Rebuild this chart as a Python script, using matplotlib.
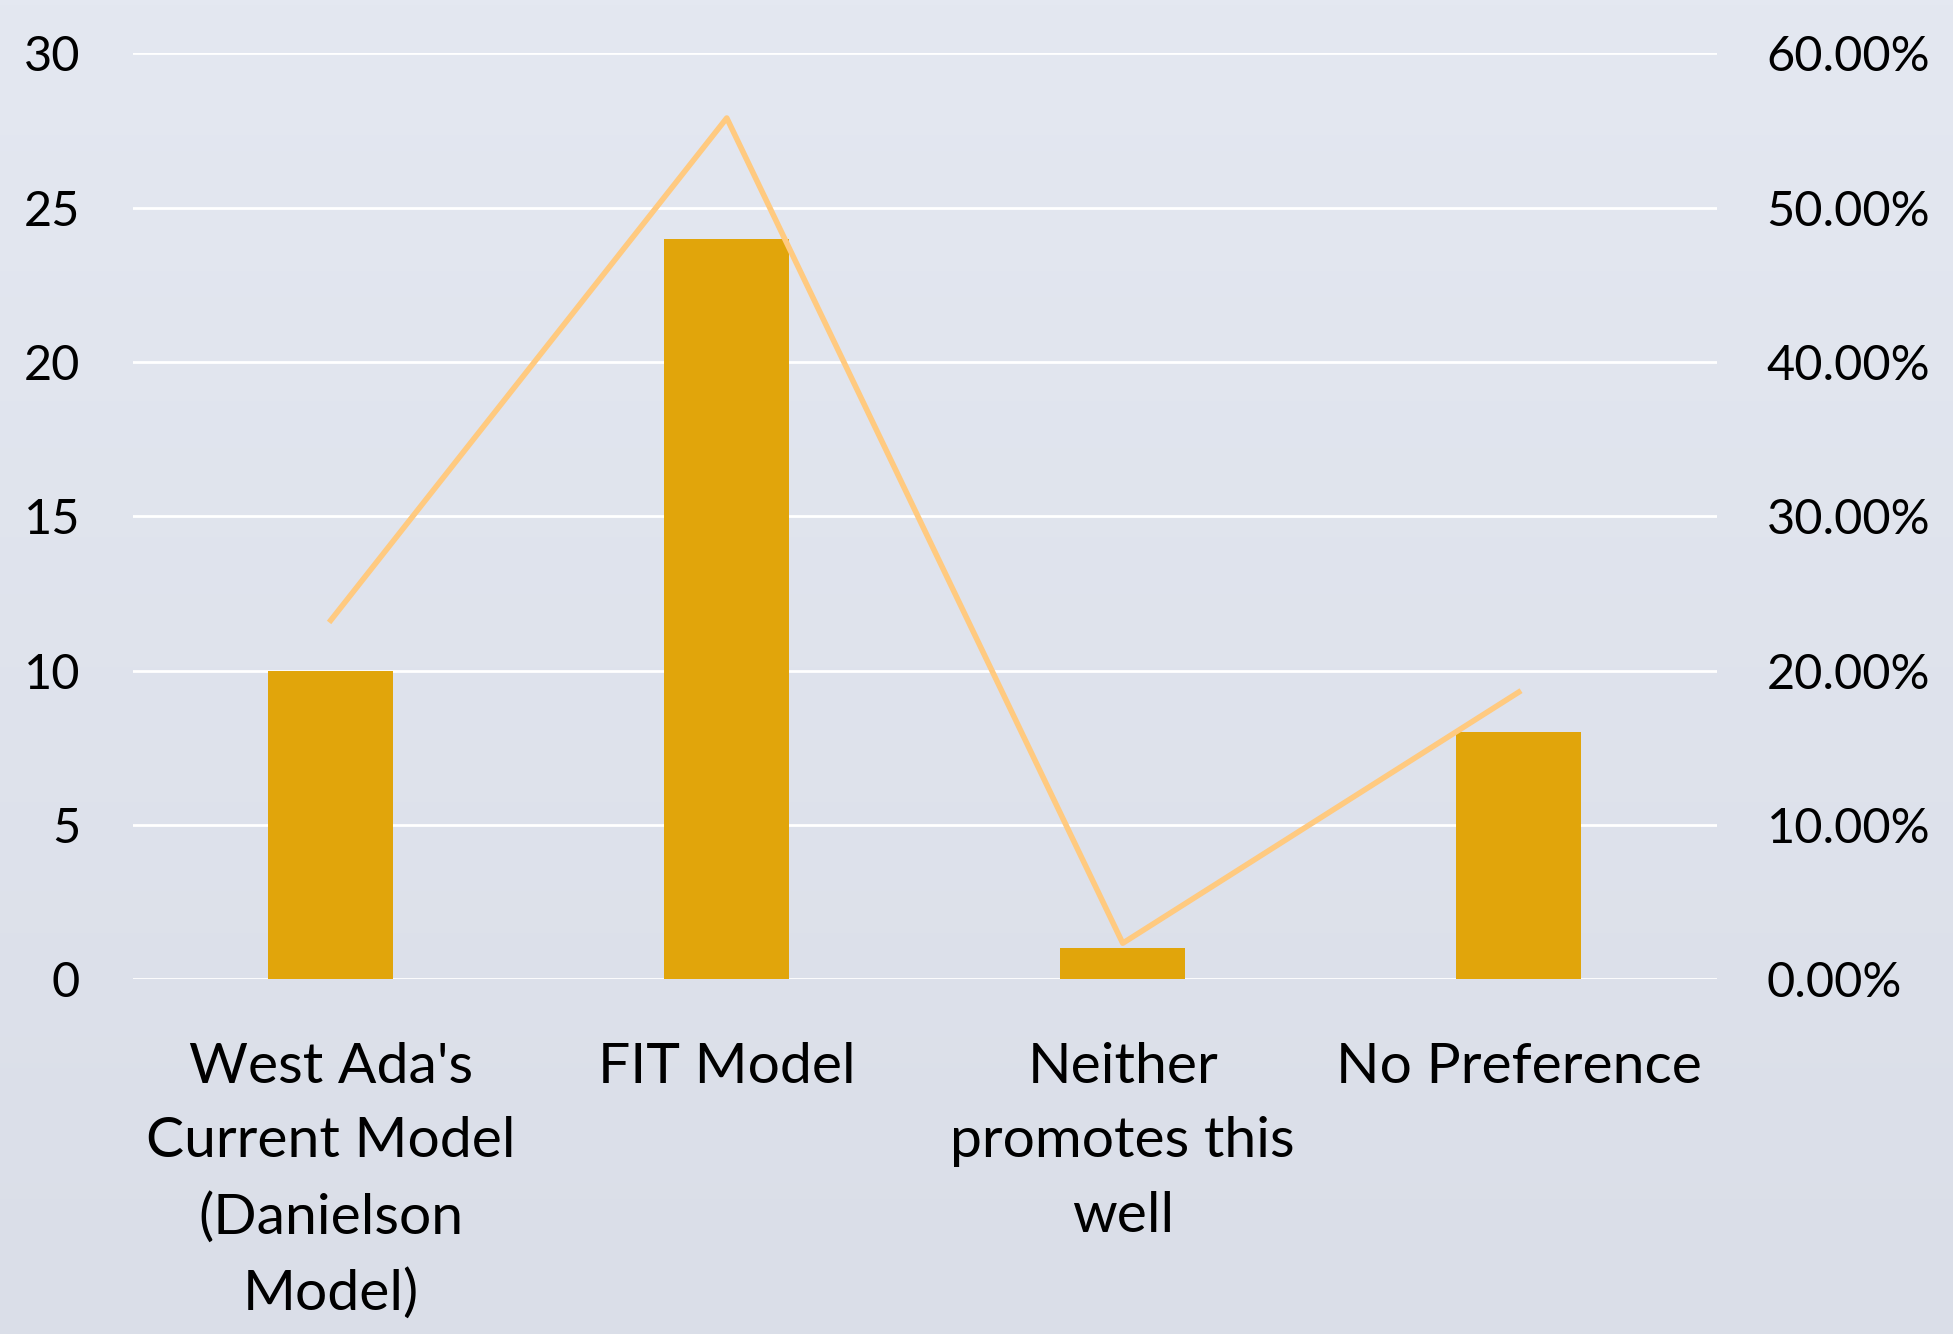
import numpy as np
import matplotlib
matplotlib.use("Agg")
import matplotlib.pyplot as plt
from matplotlib.ticker import FuncFormatter

# データ
categories = ["West Ada's\nCurrent Model\n(Danielson\nModel)", "FIT Model",
              "Neither\npromotes this\nwell", "No Preference"]
counts = [10, 24, 1, 8]
shares = [0.2326, 0.5581, 0.0233, 0.1860]

plt.rcParams['font.family'] = ['Lato', 'DejaVu Sans']

fig = plt.figure(figsize=(19.53, 13.34), dpi=100)

# 背景のグラデーション
bg = fig.add_axes([0, 0, 1, 1], zorder=-10)
grad = np.linspace(0, 1, 256).reshape(-1, 1)
top = np.array([0xE4, 0xE8, 0xF1]) / 255
bot = np.array([0xDA, 0xDE, 0xE8]) / 255
img = top + (bot - top) * grad[..., None]
bg.imshow(img, aspect='auto', extent=[0, 1, 0, 1])
bg.axis('off')

ax = fig.add_axes([0.068, 0.266, 0.811, 0.694])
ax.patch.set_alpha(0)
x = np.arange(len(categories))
ax.bar(x, counts, width=0.315, color='#E1A50B', zorder=3)
ax.set_ylim(0, 30)
ax.set_xlim(-0.5, 3.5)
ax.set_yticks(range(0, 31, 5))
ax.grid(axis='y', color='white', linewidth=2, zorder=0)
ax.set_axisbelow(True)
for s in ax.spines.values():
    s.set_visible(False)
ax.tick_params(axis='y', length=0, pad=38, labelsize=35)
ax.tick_params(axis='x', length=0, pad=45, labelsize=41)
ax.set_xticks(x)
ax.set_xticklabels(categories, linespacing=1.58)

ax2 = ax.twinx()
ax2.plot(x, shares, color='#FFCA80', linewidth=4, zorder=4)
ax2.set_ylim(0, 0.6)
ax2.set_yticks(np.arange(0, 0.61, 0.1))
ax2.yaxis.set_major_formatter(FuncFormatter(lambda v, p: f"{v*100:.2f}%"))
ax2.tick_params(axis='y', length=0, pad=36, labelsize=35)
for s in ax2.spines.values():
    s.set_visible(False)

fig.savefig("out.png", dpi=100)
